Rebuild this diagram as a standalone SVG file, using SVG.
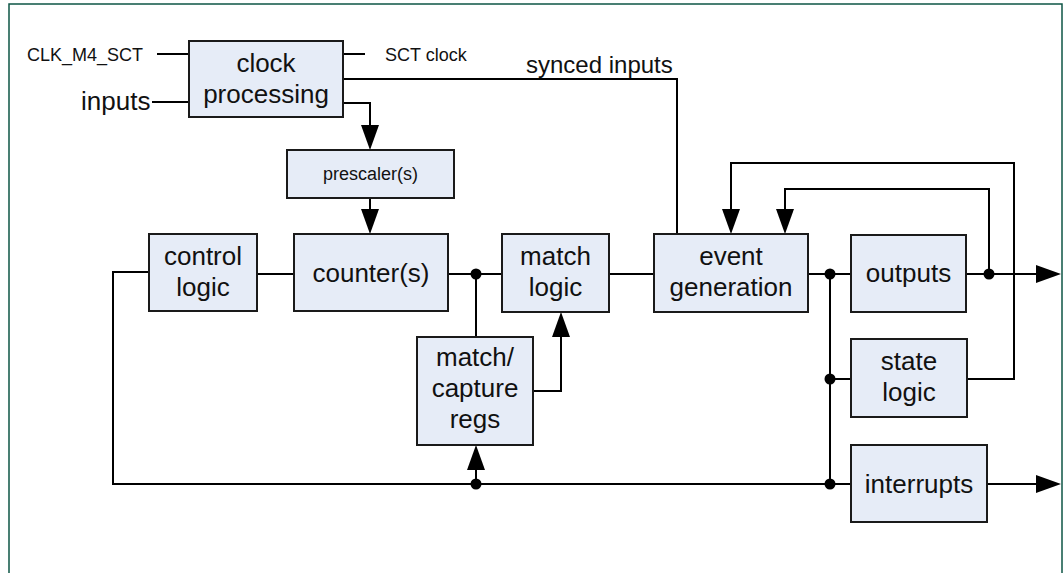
<svg xmlns="http://www.w3.org/2000/svg" width="1064" height="573" viewBox="0 0 1064 573">
<defs>
<style>
.box{fill:#e6ecf7;stroke:#1a1a1a;stroke-width:2}
.w{fill:none;stroke:#000;stroke-width:2}
.dot{fill:#000}
text{font-family:"Liberation Sans",Arial,sans-serif;fill:#111}
.big{font-size:26px;text-anchor:middle}
.sm{font-size:18px}
</style>
<marker id="ah" viewBox="0 0 25 18" refX="0" refY="9" markerWidth="25" markerHeight="18" markerUnits="userSpaceOnUse" orient="auto">
<path d="M0,0 L25,9 L0,18 Z" fill="#000"/>
</marker>
</defs>
<rect x="9" y="4" width="1053" height="620" fill="#fff" stroke="#0e5546" stroke-width="1.5"/>
<g id="connectors">
<path class="w" d="M157,54 H189"/>
<path class="w" d="M152,102 H189"/>
<path class="w" d="M343,54 H365"/>
<path class="w" d="M343,79 H677 V234"/>
<path class="w" d="M343,103 H370 V125" marker-end="url(#ah)"/>
<path class="w" d="M370,198 V209" marker-end="url(#ah)"/>
<path class="w" d="M257,274 H294"/>
<path class="w" d="M448,274 H502"/>
<path class="w" d="M476,274 V337"/>
<path class="w" d="M533,391 H561 V337" marker-end="url(#ah)"/>
<path class="w" d="M609,274 H654"/>
<path class="w" d="M808,274 H851"/>
<path class="w" d="M830,274 V484"/>
<path class="w" d="M830,379 H851"/>
<path class="w" d="M149,272 H113 V484 H851"/>
<path class="w" d="M476,484 V470" marker-end="url(#ah)"/>
<path class="w" d="M966,274 H1036" marker-end="url(#ah)"/>
<path class="w" d="M989,274 V189 H785 V209" marker-end="url(#ah)"/>
<path class="w" d="M967,379 H1014 V163 H731 V209" marker-end="url(#ah)"/>
<path class="w" d="M987,484 H1036" marker-end="url(#ah)"/>
<circle class="dot" cx="476" cy="274" r="5.5"/>
<circle class="dot" cx="476" cy="484" r="5.5"/>
<circle class="dot" cx="830" cy="274" r="5.5"/>
<circle class="dot" cx="830" cy="379" r="5.5"/>
<circle class="dot" cx="830" cy="484" r="5.5"/>
<circle class="dot" cx="989" cy="274" r="5.5"/>
<text class="sm" x="27" y="61">CLK_M4_SCT</text>
<text x="81" y="110" style="font-size:26px">inputs</text>
<text class="sm" x="385" y="61">SCT clock</text>
<text x="526" y="73" style="font-size:24px">synced inputs</text>
</g>
<g id="clock-processing">
<rect class="box" x="189" y="41" width="154" height="76"/>
<text class="big" x="266" y="72">clock</text>
<text class="big" x="266" y="103">processing</text>
</g>
<g id="prescaler">
<rect class="box" x="287" y="150" width="167" height="48"/>
<text class="sm" x="370.5" y="180" text-anchor="middle">prescaler(s)</text>
</g>
<g id="control-logic">
<rect class="box" x="149" y="234" width="108" height="77"/>
<text class="big" x="203" y="265">control</text>
<text class="big" x="203" y="296">logic</text>
</g>
<g id="counter">
<rect class="box" x="294" y="234" width="154" height="77"/>
<text class="big" x="371" y="282">counter(s)</text>
</g>
<g id="match-logic">
<rect class="box" x="502" y="234" width="107" height="78"/>
<text class="big" x="555.5" y="265">match</text>
<text class="big" x="555.5" y="296">logic</text>
</g>
<g id="match-capture-regs">
<rect class="box" x="417" y="337" width="116" height="108"/>
<text class="big" x="475" y="366">match/</text>
<text class="big" x="475" y="397">capture</text>
<text class="big" x="475" y="428">regs</text>
</g>
<g id="event-generation">
<rect class="box" x="654" y="234" width="154" height="78"/>
<text class="big" x="731" y="265">event</text>
<text class="big" x="731" y="296">generation</text>
</g>
<g id="outputs">
<rect class="box" x="851" y="235" width="115" height="77"/>
<text class="big" x="908.5" y="282">outputs</text>
</g>
<g id="state-logic">
<rect class="box" x="851" y="339" width="116" height="78"/>
<text class="big" x="909" y="370">state</text>
<text class="big" x="909" y="401">logic</text>
</g>
<g id="interrupts">
<rect class="box" x="851" y="445" width="136" height="77"/>
<text class="big" x="919" y="493">interrupts</text>
</g>
</svg>
